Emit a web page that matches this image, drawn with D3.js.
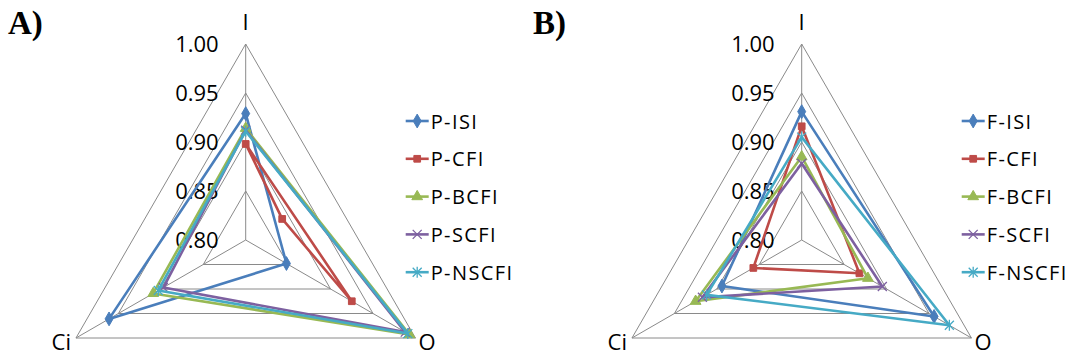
<!DOCTYPE html>
<html>
<head>
<meta charset="utf-8">
<script src="https://cdn.jsdelivr.net/npm/d3@7"></script>
<style>
  body { margin: 0; background: #fff; }
</style>
</head>
<body>
<svg class="chart" width="1067" height="356" font-family="'Open Sans', 'Liberation Sans', sans-serif"></svg>
<script>
// categories go clockwise from the top
const categories = ["I", "O", "Ci"]
const ticks = [0.80, 0.85, 0.90, 0.95, 1.00]

// panel A
const namesA = ["P-ISI", "P-CFI", "P-BCFI", "P-SCFI", "P-NSCFI"]
const pISI   = [0.929, 0.848, 0.961]
const pCFI   = [0.898, 0.925, 0.757]
const pBCFI  = [0.914, 0.993, 0.909]
const pSCFI  = [0.912, 0.988, 0.897]
const pNSCFI = [0.911, 0.991, 0.903]

// panel B
const namesB = ["F-ISI", "F-CFI", "F-BCFI", "F-SCFI", "F-NSCFI"]
const fISI   = [0.931, 0.956, 0.894]
const fCFI   = [0.916, 0.868, 0.857]
const fBCFI  = [0.885, 0.878, 0.925]
const fSCFI  = [0.878, 0.895, 0.917]
const fNSCFI = [0.905, 0.974, 0.912]

var colors = ["#4a7ebb", "#be4b48", "#98b954", "#7d60a0", "#46aac5"]
var markers = ["diamond", "square", "triangle", "x", "star"]

var svg = d3.select(".chart")

function markerPath(type) {
    if (type === "diamond") return d3.symbol().type(d3.symbolDiamond).size(55)()
    if (type === "square") return d3.symbol().type(d3.symbolSquare).size(45)()
    if (type === "triangle") return d3.symbol().type(d3.symbolTriangle).size(50)()
    if (type === "x") return "M-4.5,-4.5L4.5,4.5M-4.5,4.5L4.5,-4.5"
    return "M-4.5,-4.5L4.5,4.5M-4.5,4.5L4.5,-4.5M0,-5.5L0,5.5"
}

function drawMarker(g, type, color, x, y) {
    var filled = type === "diamond" || type === "square" || type === "triangle"
    g.append("path")
        .attr("d", markerPath(type))
        .attr("transform", `translate(${x},${y})`)
        .attr("fill", filled ? color : "none")
        .attr("stroke", color)
        .attr("stroke-width", filled ? 1 : 1.3)
}

function drawRadar(cx, cy, title, titleX, names, series) {
    var r = d3.scaleLinear().domain([0.80, 1.00]).range([0, 196])
    var angle = d3.scaleOrdinal().domain(categories).range([0, 2 * Math.PI / 3, 4 * Math.PI / 3])

    // negative radius (value under 0.80) lands on the opposite side, like Excel
    var pt = (c, v) => [cx + r(v) * Math.sin(angle(c)), cy - r(v) * Math.cos(angle(c))]

    var g = svg.append("g").attr("class", "radar")

    svg.append("text")
        .attr("class", "panel__title")
        .attr("x", titleX)
        .attr("y", 34)
        .attr("font-family", "'Liberation Serif', 'DejaVu Serif', serif")
        .attr("font-weight", "bold")
        .attr("font-size", 33)
        .text(title)

    // grid triangles
    g.selectAll("path.grid")
        .data(ticks.slice(1))
        .enter().append("path")
        .attr("class", "grid")
        .attr("d", t => d3.line()(categories.map(c => pt(c, t))) + "Z")
        .attr("fill", "none")
        .attr("stroke", "#8a8a8a")
        .attr("stroke-width", 1)

    g.selectAll("line.spoke")
        .data(categories)
        .enter().append("line")
        .attr("class", "spoke")
        .attr("x1", cx).attr("y1", cy)
        .attr("x2", c => pt(c, 1.00)[0])
        .attr("y2", c => pt(c, 1.00)[1])
        .attr("stroke", "#8a8a8a")
        .attr("stroke-width", 1)

    g.selectAll("text.tick__label")
        .data(ticks)
        .enter().append("text")
        .attr("class", "tick__label")
        .attr("x", cx - 27)
        .attr("y", t => pt("I", t)[1] + 8)
        .attr("text-anchor", "end")
        .attr("font-size", 22)
        .text(t => d3.format(".2f")(t))

    // category labels outside the vertices
    var top = pt("I", 1.00), right = pt("O", 1.00), left = pt("Ci", 1.00)
    g.append("text").attr("class", "axis__label").attr("font-size", 22)
        .attr("x", top[0]).attr("y", top[1] - 14)
        .attr("text-anchor", "middle").text("I")
    g.append("text").attr("class", "axis__label").attr("font-size", 22)
        .attr("x", right[0] + 3).attr("y", right[1] + 12)
        .attr("text-anchor", "start").text("O")
    g.append("text").attr("class", "axis__label").attr("font-size", 22)
        .attr("x", left[0] - 5).attr("y", left[1] + 12)
        .attr("text-anchor", "end").text("Ci")

    series.forEach((vals, i) => {
        var pts = categories.map((c, k) => pt(c, vals[k]))
        g.append("path")
            .attr("d", d3.line()(pts) + "Z")
            .attr("fill", "none")
            .attr("stroke", colors[i])
            .attr("stroke-width", 2.6)
            .attr("stroke-linejoin", "round")
        pts.forEach(p => drawMarker(g, markers[i], colors[i], p[0], p[1]))
    })

    // legend
    var lx = cx + 160
    var legend = svg.append("g").attr("class", "legend")
    names.forEach((n, i) => {
        var ly = 121 + i * 37.8
        legend.append("line")
            .attr("x1", lx).attr("x2", lx + 23)
            .attr("y1", ly).attr("y2", ly)
            .attr("stroke", colors[i])
            .attr("stroke-width", 2.6)
        drawMarker(legend, markers[i], colors[i], lx + 11.5, ly)
        legend.append("text")
            .attr("class", "legend__item")
            .attr("x", lx + 25)
            .attr("y", ly + 7.5)
            .attr("font-size", 20)
            .attr("letter-spacing", 1.4)
            .text(n)
    })
}

drawRadar(245.7, 240, "A)", 8, namesA, [pISI, pCFI, pBCFI, pSCFI, pNSCFI])
drawRadar(801.7, 240, "B)", 533, namesB, [fISI, fCFI, fBCFI, fSCFI, fNSCFI])
</script>
</body>
</html>
